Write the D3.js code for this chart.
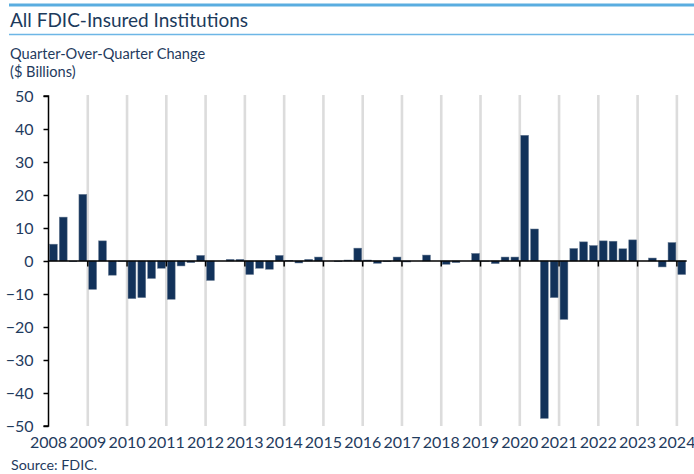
<!DOCTYPE html>
<html>
<head>
<meta charset="utf-8">
<script src="https://cdn.jsdelivr.net/npm/d3@7"></script>
<style>
  html, body { margin: 0; padding: 0; background: #fff; }
  svg { display: block; }
  text { font-family: "Liberation Sans Narrow", Lato, "Noto Sans", sans-serif; }
</style>
</head>
<body>
<svg id="chart" width="694" height="474"></svg>
<script>
// ---- data ----
const yearLabels = [2008, 2009, 2010, 2011, 2012, 2013, 2014, 2015, 2016, 2017, 2018, 2019, 2020, 2021, 2022, 2023, 2024];
const quarterNames = ["Q1", "Q2", "Q3", "Q4"];
const values = [
  5.1, 13.3, -0.2, 20.2,     // 2008
  -8.6, 6.1, -4.3, -0.1,     // 2009
  -11.4, -11.1, -5.3, -2.2,  // 2010
  -11.6, -1.5, -0.5, 1.7,    // 2011
  -5.9, 0.0, 0.5, 0.5,       // 2012
  -4.1, -2.2, -2.5, 1.7,     // 2013
  0.2, -0.6, 0.5, 1.2,       // 2014
  0.0, -0.2, 0.3, 3.9,       // 2015
  0.3, -0.7, -0.2, 1.2,      // 2016
  -0.3, 0.0, 1.8, 0.0,       // 2017
  -1.0, -0.5, 0.0, 2.3,      // 2018
  -0.1, -0.8, 1.2, 1.2,      // 2019
  38.1, 9.7, -47.7, -11.1,   // 2020
  -17.7, 3.8, 5.8, 4.7,      // 2021
  6.1, 6.0, 3.7, 6.4,        // 2022
  0.0, 0.9, -1.8, 5.6,       // 2023
  -4.1                       // 2024
];
const yTicks = [50, 40, 30, 20, 10, 0, -10, -20, -30, -40, -50];
const titleText = "All FDIC-Insured Institutions";
const subtitleLines = ["Quarter-Over-Quarter Change", "($ Billions)"];
const sourceText = "Source: FDIC.";

// ---- build categories ----
const quarters = [];
yearLabels.forEach(y => quarterNames.forEach(q => quarters.push(y + q)));
const cats = quarters.slice(0, values.length);
const data = cats.map((c, i) => ({ cat: c, value: values[i] }));

// ---- styles ----
const navy = "#12325a";
const textColor = "#1f3b5e";
const svg = d3.select("#chart");

// header lines
svg.append("line").attr("x1", 9).attr("x2", 694).attr("y1", 5).attr("y2", 5)
  .attr("stroke", "#5aade0").attr("stroke-width", 3);
svg.append("text").attr("x", 10).attr("y", 27).text(titleText)
  .attr("font-family", "Lato, sans-serif")
  .attr("font-size", 19).attr("fill", "#1c3a5c");
svg.append("line").attr("x1", 9).attr("x2", 694).attr("y1", 34.5).attr("y2", 34.5)
  .attr("stroke", "#6db6e6").attr("stroke-width", 1.5);

svg.selectAll("text.sub").data(subtitleLines).join("text")
  .attr("class", "sub")
  .attr("x", 10).attr("y", (d, i) => 59 + i * 18)
  .attr("font-family", "Lato, sans-serif")
  .attr("font-size", 14.6).attr("fill", textColor).text(d => d);

// ---- scales ----
const x = d3.scaleBand().domain(cats).range([48.5, 686.7])
  .paddingInner(0.2).paddingOuter(0.1);
const y = d3.scaleLinear().domain([-50, 50]).range([426, 96]);
const boundary = yr => x(yr + "Q1") - x.step() * x.paddingInner() / 2;

// gridlines at year boundaries (excluding axis)
svg.append("g").selectAll("line").data(yearLabels.slice(1)).join("line")
  .attr("x1", d => boundary(d)).attr("x2", d => boundary(d))
  .attr("y1", y(50) - 1).attr("y2", y(-50))
  .attr("stroke", "#dcdcdc").attr("stroke-width", 2.6);

// bars
svg.append("g").selectAll("rect").data(data).join("rect")
  .attr("x", d => x(d.cat))
  .attr("width", x.bandwidth())
  .attr("y", d => y(Math.max(0, d.value)))
  .attr("height", d => Math.abs(y(d.value) - y(0)))
  .attr("fill", navy)
  .attr("stroke", "#6d7f95").attr("stroke-width", 0.5);

// zero line
svg.append("line").attr("x1", 48.5).attr("x2", 686.7).attr("y1", y(0)).attr("y2", y(0))
  .attr("stroke", "#000").attr("stroke-width", 1.5);

// year ticks below zero line
svg.append("g").selectAll("line").data(yearLabels.slice(1)).join("line")
  .attr("x1", d => boundary(d)).attr("x2", d => boundary(d))
  .attr("y1", y(0)).attr("y2", y(0) + 5.5)
  .attr("stroke", "#000").attr("stroke-width", 1.5);

// y axis
const yAxis = d3.axisLeft(y).tickValues(yTicks).tickSize(5).tickPadding(10);
const yg = svg.append("g").attr("transform", "translate(48.5,0)").call(yAxis);
yg.select(".domain").attr("stroke", "#000").attr("stroke-width", 1.5).attr("d", `M-5,${y(50)}H0V${y(-50)}H-5`);
yg.selectAll(".tick line").attr("stroke", "#000").attr("stroke-width", 1.5);
yg.selectAll(".tick text").attr("font-size", 16).attr("fill", textColor)
  .attr("font-family", null);

// x labels
svg.append("g").selectAll("text").data(yearLabels).join("text")
  .attr("x", d => boundary(d)).attr("y", 448)
  .attr("text-anchor", "middle")
  .attr("font-size", 16).attr("fill", textColor).text(d => d);

// source
svg.append("text").attr("x", 11).attr("y", 470).text(sourceText)
  .attr("font-family", "Lato, sans-serif")
  .attr("font-size", 14.3).attr("fill", textColor);
</script>
</body>
</html>
